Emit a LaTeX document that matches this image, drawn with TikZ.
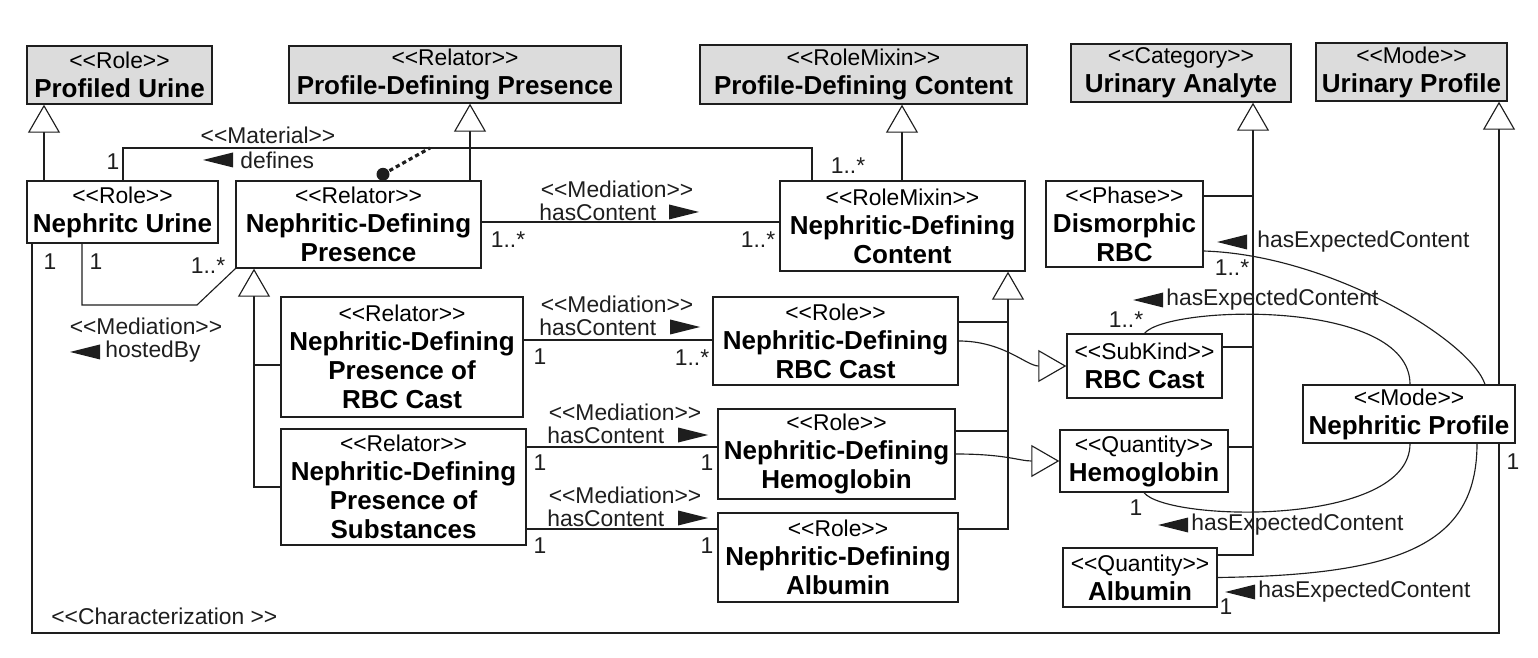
\documentclass[tikz,border=0pt]{standalone}
\usepackage{fontspec}
\setmainfont{Liberation Sans}
\usetikzlibrary{arrows.meta}
\definecolor{boxgray}{RGB}{220,220,220}
\definecolor{ink}{RGB}{30,30,30}
\newcommand\namefont{\fontsize{14.8}{16.5}\selectfont\bfseries}
\newcommand\stfont{\fontsize{13}{16.5}\selectfont\mdseries}
\newcommand\lblfont{\fontsize{13}{15}\selectfont}
\newcommand\sq[1]{<\kern0pt<#1>\kern0pt>}
\newcommand\st[1]{{\stfont\sq{#1}}}
\newcommand\dirL[2]{\fill[ink] (#1-15,#2) -- (#1+15,#2-7.5) -- (#1+15,#2+7.5) -- cycle;}
\newcommand\dirR[2]{\fill[ink] (#1+15,#2) -- (#1-15,#2-7.5) -- (#1-15,#2+7.5) -- cycle;}
\tikzset{
  cls/.style={draw=ink, line width=0.8pt, fill=white, inner sep=0pt, align=center, font=\namefont},
  gcls/.style={cls, fill=boxgray},
  lbl/.style={font=\lblfont, inner sep=0pt, text=ink},
  conn/.style={line width=0.65pt, draw=ink},
  gen/.style={conn, -{Triangle[open, length=0.56cm, width=0.64cm, fill=white]}},
}
\begin{document}
\begin{tikzpicture}[x=0.02cm, y=-0.02cm]
\useasboundingbox (0,0) rectangle (1538,658);
% column / row helpers
\foreach \c in {32,44,82,123,197,254,383,430,470,812,902,1008,1253,1410,1477,1485,1499}{\coordinate (c\c) at (\c,0);}
\foreach \r in {148,196,222,251,305,322,340,347,365,431,447,529,555,633}{\coordinate (r\r) at (0,\r);}

% top row
\node[gcls, minimum width=3.70cm, minimum height=1.16cm] (PU) at (119.5,75) {\st{Role}\\Profiled Urine};
\node[gcls, minimum width=6.64cm, minimum height=1.14cm] (PDP) at (455,74.5) {\st{Relator}\\Profile-Defining Presence};
\node[gcls, minimum width=6.54cm, minimum height=1.18cm] (PDC) at (863.5,74.5) {\st{RoleMixin}\\Profile-Defining Content};
\node[gcls, minimum width=4.40cm, minimum height=1.16cm] (UA) at (1181,73) {\st{Category}\\Urinary Analyte};
\node[gcls, minimum width=3.82cm, minimum height=1.16cm] (UP) at (1411.5,72) {\st{Mode}\\Urinary Profile};
% second row
\node[cls, minimum width=3.82cm, minimum height=1.24cm] (NU) at (122.5,212) {\st{Role}\\Nephritc Urine};
\node[cls, minimum width=4.90cm, minimum height=1.74cm] (NDP) at (358.5,224.5) {\st{Relator}\\Nephritic-Defining\\Presence};
\node[cls, minimum width=4.90cm, minimum height=1.80cm] (NDC) at (902.5,226) {\st{RoleMixin}\\Nephritic-Defining\\Content};
\node[cls, minimum width=3.14cm, minimum height=1.72cm] (DRBC) at (1124.5,224) {\st{Phase}\\Dismorphic\\RBC};
% lower rows
\node[cls, minimum width=4.84cm, minimum height=2.40cm] (NDPR) at (402,357) {\st{Relator}\\Nephritic-Defining\\Presence of\\RBC Cast};
\node[cls, minimum width=4.90cm, minimum height=2.32cm] (NDPS) at (403.5,487) {\st{Relator}\\Nephritic-Defining\\Presence of\\Substances};
\node[cls, minimum width=4.90cm, minimum height=1.76cm] (NDR) at (835.5,341) {\st{Role}\\Nephritic-Defining\\RBC Cast};
\node[cls, minimum width=4.74cm, minimum height=1.80cm] (NDH) at (836.5,454) {\st{Role}\\Nephritic-Defining\\Hemoglobin};
\node[cls, minimum width=4.80cm, minimum height=1.78cm] (NDA) at (838,557.5) {\st{Role}\\Nephritic-Defining\\Albumin};
\node[cls, minimum width=3.10cm, minimum height=1.28cm] (RC) at (1144.5,366) {\st{SubKind}\\RBC Cast};
\node[cls, minimum width=3.36cm, minimum height=1.24cm] (HB) at (1144,461) {\st{Quantity}\\Hemoglobin};
\node[cls, minimum width=3.08cm, minimum height=1.18cm] (AL) at (1140,577.5) {\st{Quantity}\\Albumin};
\node[cls, minimum width=4.24cm, minimum height=1.16cm] (NP) at (1409,414) {\st{Mode}\\Nephritic Profile};

% generalizations
\draw[gen] (NU.north -| c44) -- (PU.south -| c44);
\draw[gen] (NDP.north -| c470) -- (PDP.south -| c470);
\draw[gen] (NDC.north -| c902) -- (PDC.south -| c902);
\draw[gen] (NDPS.west) -| (NDP.south -| c254);
\draw[conn] (NDPR.west |- r365) -- (c254 |- r365);
\draw[gen] (NDA.east |- r529) -| (NDC.south -| c1008);
\draw[conn] (NDR.east |- r322) -- (c1008 |- r322);
\draw[conn] (NDH.east |- r431) -- (c1008 |- r431);
\draw[gen] (AL.east |- r555) -| (UA.south -| c1253);
\draw[conn] (DRBC.east |- r196) -- (c1253 |- r196);
\draw[conn] (RC.east |- r347) -- (c1253 |- r347);
\draw[conn] (HB.east |- r447) -- (c1253 |- r447);
\draw[gen] (NP.north -| c1499) -- (UP.south -| c1499);
\draw[gen] (NDR.east) .. controls +(45,0) and +(-40,0) .. (RC.west);
\draw[gen] (NDH.east) .. controls +(50,0) and +(-40,0) .. (HB.west);

% associations
\draw[conn] (NU.north -| c123) |- (r148 -| c812) -- (NDC.north -| c812);
\draw[ink, line width=1.8pt, dash pattern=on 2.4pt off 1.8pt] (NDP.north -| c383) ++(0,-6) -- (r148 -| c430);
\fill[ink] (NDP.north -| c383) ++(0,-6) circle[radius=0.13cm];
\draw[conn] (NDP.east |- r222) -- (NDC.west |- r222);
\draw[conn] (NU.south -| c82) |- (r305 -| c197) -- (NDP.south west);
\draw[conn] (NDPR.east |- r340) -- (NDR.west |- r340);
\draw[conn] (NDPS.east |- r447) -- (NDH.west |- r447);
\draw[conn] (NDPS.east |- r529) -- (NDA.west |- r529);
\draw[conn] (NU.south -| c32) |- (r633 -| c1499) -- (NP.south -| c1499);
\draw[conn] (DRBC.east |- r251) .. controls (1330,255) and (1470,340) .. (NP.north -| c1485);
\draw[conn] (RC.north) .. controls (1168,305) and (1410,298) .. (NP.north -| c1410);
\draw[conn] (HB.south) .. controls (1168,522) and (1410,527) .. (NP.south -| c1410);
\draw[conn] (AL.east) .. controls (1400,575) and (1477,545) .. (NP.south -| c1477);

% direction markers
\dirL{218}{160}
\dirR{684}{212}
\dirL{85}{352}
\dirR{685}{327}
\dirR{693}{435}
\dirR{693}{518}
\dirL{1232}{242}
\dirL{1148}{300}
\dirL{1173}{525}
\dirL{1240}{592}

% labels
\node[lbl] (m1) at (268,135) {\sq{Material}};
\node[lbl, anchor=west] (m2) at (240,160) {defines};
\node[lbl] (m3) at (113,162) {1};
\node[lbl] (m4) at (848,166) {1..*};
\node[lbl] (m5) at (617,189) {\sq{Mediation}};
\node[lbl, anchor=west] (m6) at (539,212) {hasContent};
\node[lbl] (m7) at (508,240) {1..*};
\node[lbl] (m8) at (758,240) {1..*};
\node[lbl] (m9) at (50,262) {1};
\node[lbl] (m10) at (96,262) {1};
\node[lbl] (m11) at (208,266) {1..*};
\node[lbl] (m12) at (146,326) {\sq{Mediation}};
\node[lbl, anchor=west] (m13) at (105,352) {hostedBy};
\node[lbl] (m14) at (617,304) {\sq{Mediation}};
\node[lbl, anchor=west] (m15) at (539,327) {hasContent};
\node[lbl] (m16) at (540,357) {1};
\node[lbl] (m17) at (692,358) {1..*};
\node[lbl] (m18) at (625,412) {\sq{Mediation}};
\node[lbl, anchor=west] (m19) at (547,435) {hasContent};
\node[lbl] (m20) at (540,463) {1};
\node[lbl] (m21) at (707,463) {1};
\node[lbl] (m22) at (625,495) {\sq{Mediation}};
\node[lbl, anchor=west] (m23) at (547,518) {hasContent};
\node[lbl] (m24) at (540,546) {1};
\node[lbl] (m25) at (707,546) {1};
\node[lbl, anchor=west] (m26) at (51,616) {\sq{Characterization }};
\node[lbl, anchor=west] (m27) at (1257,242) {hasExpectedContent};
\node[lbl] (m28) at (1232,268) {1..*};
\node[lbl, anchor=west] (m29) at (1166,300) {hasExpectedContent};
\node[lbl] (m30) at (1126,320) {1..*};
\node[lbl, anchor=west] (m31) at (1191,525) {hasExpectedContent};
\node[lbl] (m32) at (1136,508) {1};
\node[lbl, anchor=west] (m33) at (1258,592) {hasExpectedContent};
\node[lbl] (m34) at (1226,607) {1};
\node[lbl] (m35) at (1513,462) {1};
\end{tikzpicture}
\end{document}
